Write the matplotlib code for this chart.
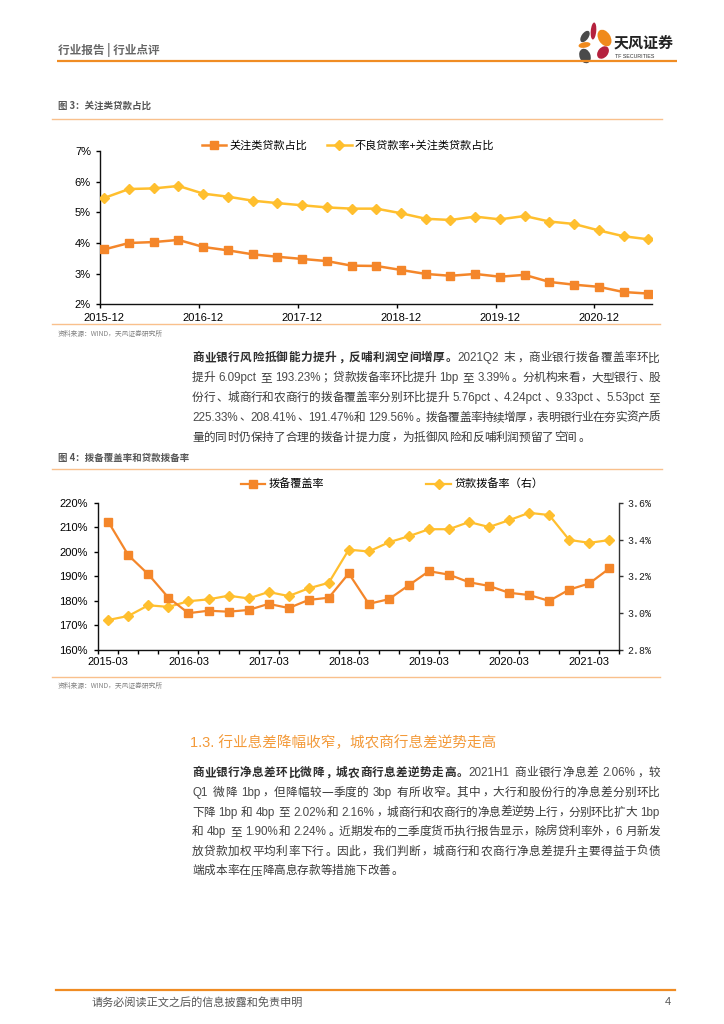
import matplotlib
matplotlib.use("Agg")
import matplotlib.pyplot as plt
from matplotlib.patches import Ellipse

# ---------------- data ----------------
dates1 = ["2015-12", "2016-03", "2016-06", "2016-09", "2016-12", "2017-03", "2017-06",
          "2017-09", "2017-12", "2018-03", "2018-06", "2018-09", "2018-12", "2019-03",
          "2019-06", "2019-09", "2019-12", "2020-03", "2020-06", "2020-09", "2020-12",
          "2021-03", "2021-06"]
special_mention = [3.79, 4.00, 4.03, 4.10, 3.87, 3.76, 3.63, 3.55, 3.48, 3.41, 3.26, 3.25,
                   3.12, 2.99, 2.93, 2.99, 2.90, 2.96, 2.73, 2.64, 2.57, 2.40, 2.35]
npl_plus_sm = [5.47, 5.76, 5.78, 5.86, 5.61, 5.51, 5.38, 5.30, 5.23, 5.16, 5.12, 5.12,
               4.97, 4.79, 4.75, 4.86, 4.77, 4.88, 4.70, 4.62, 4.41, 4.22, 4.12]
series1_names = ["关注类贷款占比", "不良贷款率+关注类贷款占比"]

dates2 = ["2015-03", "2015-06", "2015-09", "2015-12", "2016-03", "2016-06", "2016-09",
          "2016-12", "2017-03", "2017-06", "2017-09", "2017-12", "2018-03", "2018-06",
          "2018-09", "2018-12", "2019-03", "2019-06", "2019-09", "2019-12", "2020-03",
          "2020-06", "2020-09", "2020-12", "2021-03", "2021-06"]
provision_coverage = [212.2, 198.6, 190.8, 181.3, 175.0, 176.0, 175.6, 176.3, 178.8, 177.1,
                      180.4, 181.3, 191.2, 178.8, 180.7, 186.4, 192.1, 190.7, 187.6, 186.1,
                      183.3, 182.4, 180.0, 184.6, 187.1, 193.2]
loan_provision_ratio = [2.963, 2.985, 3.043, 3.034, 3.065, 3.075, 3.095, 3.080, 3.115, 3.093,
                        3.135, 3.165, 3.345, 3.335, 3.385, 3.418, 3.456, 3.456, 3.495, 3.468,
                        3.505, 3.545, 3.533, 3.398, 3.382, 3.397]
series2_names = ["拨备覆盖率", "贷款拨备率（右）"]

y1_ticks = [2, 3, 4, 5, 6, 7]
y2_left_ticks = [160, 170, 180, 190, 200, 210, 220]
y2_right_ticks = [2.8, 3.0, 3.2, 3.4, 3.6]

para1 = [[("商业银行风险抵御能力提升，反哺利润空间增厚。", True), ("2021Q2 末，商业银行拨备覆盖率环比", False)],
         [("提升 6.09pct 至 193.23%；贷款拨备率环比提升 1bp 至 3.39%。分机构来看，大型银行、股", False)],
         [("份行、城商行和农商行的拨备覆盖率分别环比提升 5.76pct、4.24pct、9.33pct、5.53pct 至", False)],
         [("225.33%、208.41%、191.47%和 129.56%。拨备覆盖率持续增厚，表明银行业在夯实资产质", False)],
         [("量的同时仍保持了合理的拨备计提力度，为抵御风险和反哺利润预留了空间。", False)]]
para2 = [[("商业银行净息差环比微降，城农商行息差逆势走高。", True), ("2021H1 商业银行净息差 2.06%，较", False)],
         [("Q1 微降 1bp，但降幅较一季度的 3bp 有所收窄。其中，大行和股份行的净息差分别环比", False)],
         [("下降 1bp 和 4bp 至 2.02%和 2.16%，城商行和农商行的净息差逆势上行，分别环比扩大 1bp", False)],
         [("和 4bp 至 1.90%和 2.24%。近期发布的二季度货币执行报告显示，除房贷利率外，6 月新发", False)],
         [("放贷款加权平均利率下行。因此，我们判断，城商行和农商行净息差提升主要得益于负债", False)],
         [("端成本率在压降高息存款等措施下改善。", False)]]

# ---------------- styles ----------------
CJK = "Noto Sans CJK SC"
MIX = ["Liberation Sans", "Noto Sans CJK SC"]
ORANGE = "#F4862A"
YELLOW = "#FFBF2E"
HEAD_OR = "#F08C23"
SEP = "#F9C08C"
GRAY = "#666666"
PUNCT = "，。、；："

plt.rcParams["font.family"] = MIX
W, H = 724, 1024
fig = plt.figure(figsize=(W / 100, H / 100), dpi=100)
bg = fig.add_axes([0, 0, 1, 1])
bg.set_xlim(0, W)
bg.set_ylim(H, 0)
bg.axis("off")
bg.set_zorder(-5)
renderer = fig.canvas.get_renderer()


def fx(x):
    return x / W


def fy(y):
    return 1 - y / H


def em(size):
    return size * 100 / 72


def draw_line(x0, yc, segs, justify, width=468, size=8.4):
    toks = []
    for text, bold in segs:
        buf = ""
        for ch in text:
            if ord(ch) >= 0x2E80:
                if buf:
                    toks.append((buf, "lat", bold))
                    buf = ""
                toks.append((ch, "cjk", bold))
            elif ch == " ":
                if buf:
                    toks.append((buf, "lat", bold))
                    buf = ""
                toks.append((ch, "sp", bold))
            else:
                buf += ch
        if buf:
            toks.append((buf, "lat", bold))
    base = yc + 0.37 * em(size)
    items = []
    for t, kind, bold in toks:
        if kind == "sp":
            items.append((None, 0.28 * em(size), kind, t))
            continue
        if kind == "cjk":
            a = bg.text(0, base, t, family=CJK, fontsize=size,
                        fontweight="bold" if bold else "normal",
                        color="#2e2e2e" if bold else "#3a3a3a", va="baseline",
                        ha="left" if t in PUNCT else "center")
            w = em(size)
        else:
            a = bg.text(0, base, t, family="Liberation Sans", fontsize=size,
                        color="#4a4a4a", va="baseline", ha="left")
            w = a.get_window_extent(renderer).width + 0.12 * em(size)
        items.append((a, w, kind, t))
    n = len(items)
    gap = (width - sum(it[1] for it in items)) / (n - 1) if (justify and n > 1) else 0
    x = x0
    for a, w, kind, t in items:
        if a is not None:
            if kind == "cjk" and t not in PUNCT:
                a.set_x(x + w / 2)
            elif kind == "cjk":
                a.set_x(x + 0.1 * em(size))
            else:
                a.set_x(x + 0.04 * em(size))
        x += w + gap


# ---------------- header ----------------
bg.text(58, 50, "行业报告 | 行业点评", family=CJK, fontsize=8.4, fontweight="bold",
        color=GRAY, va="center", ha="left")
bg.plot([57, 677], [61, 61], color=HEAD_OR, lw=1.6, solid_capstyle="butt")
petals = [((593.5, 31), 5.5, 17, 5, "#B5213E"),
          ((585, 36.5), 7, 13, 35, "#4a4a4a"),
          ((604.5, 38), 12, 18, -32, "#F08A1C"),
          ((584.5, 45), 12, 5.5, -10, "#F08A1C"),
          ((603, 52.5), 10, 14, 40, "#B5213E"),
          ((585, 56), 11, 15, -22, "#4a4a4a")]
for (cx, cy), w, h, ang, col in petals:
    bg.add_patch(Ellipse((cx, cy), w, h, angle=ang, color=col, lw=0))
bg.text(614, 43, "天风证券", family=CJK, fontsize=10.8, fontweight="bold",
        color="#222222", va="center", ha="left")
bg.text(615, 56, "TF SECURITIES", family="Liberation Sans", fontsize=3.8,
        color="#333333", va="center", ha="left")

# ---------------- chart 1 ----------------
bg.text(58, 106, "图 3：关注类贷款占比", family=CJK, fontsize=6.8, fontweight="bold",
        color="#555555", va="center", ha="left")
bg.plot([52, 662], [119, 119], color=SEP, lw=1.0)

ax1 = fig.add_axes([fx(100), fy(304.3), fx(651.7) - fx(100), fy(151) - fy(304.3)])
x1 = list(range(len(dates1)))
l1, = ax1.plot(x1, special_mention, color=ORANGE, lw=1.8, marker="s", markersize=5.3,
               markerfacecolor=ORANGE, markeredgecolor=ORANGE, zorder=3)
l2, = ax1.plot(x1, npl_plus_sm, color=YELLOW, lw=1.8, marker="D", markersize=5.0,
               markerfacecolor=YELLOW, markeredgecolor=YELLOW, zorder=3)
ax1.set_xlim(-0.174, 22.14)
ax1.set_ylim(2, 7)
for s in ["top", "right"]:
    ax1.spines[s].set_visible(False)
for s in ["left", "bottom"]:
    ax1.spines[s].set_linewidth(1.0)
    ax1.spines[s].set_color("#111111")
ax1.set_yticks(y1_ticks)
ax1.set_yticklabels([f"{v}%" for v in y1_ticks], family="Liberation Sans", fontsize=8)
ax1.set_xticks([i - 0.174 for i in range(0, 23, 4)])
ax1.set_xticklabels([])
ax1.set_xticks(list(range(0, 23, 4)), minor=True)
ax1.set_xticklabels([dates1[i] for i in range(0, 23, 4)], minor=True,
                    family="Liberation Sans", fontsize=8)
ax1.tick_params(axis="x", which="major", length=3, width=1.0, direction="out")
ax1.tick_params(axis="x", which="minor", length=0, pad=6)
ax1.tick_params(axis="y", length=3, width=1.0, direction="out", pad=3.5)
ax1.patch.set_alpha(0)
ax1.legend([l1, l2], series1_names, loc="center", bbox_to_anchor=(fx(348), fy(146)),
           bbox_transform=fig.transFigure, ncol=2, frameon=False,
           handlelength=2.2, handletextpad=0.3, columnspacing=1.8,
           prop={"family": CJK, "size": 8})

bg.plot([52, 660], [323.5, 323.5], color=SEP, lw=1.0)
bg.text(58, 334, "资料来源：WIND，天风证券研究所", family=CJK, fontsize=4.9, color="#808080",
        va="center", ha="left")

# ---------------- paragraph 1 ----------------
for i, segs in enumerate(para1):
    draw_line(192, 357 + i * 19.8, segs, justify=(i < len(para1) - 1))

# ---------------- chart 2 ----------------
bg.text(58, 458, "图 4：拨备覆盖率和贷款拨备率", family=CJK, fontsize=6.8, fontweight="bold",
        color="#555555", va="center", ha="left")
bg.plot([52, 662], [469, 469], color=SEP, lw=1.0)

ax2 = fig.add_axes([fx(98.3), fy(650), fx(619.3) - fx(98.3), fy(502.7) - fy(650)])
ax2r = ax2.twinx()
x2 = list(range(len(dates2)))
m1, = ax2.plot(x2, provision_coverage, color=ORANGE, lw=1.6, marker="s", markersize=5.3,
               markerfacecolor=ORANGE, markeredgecolor=ORANGE, zorder=4)
m2, = ax2r.plot(x2, loan_provision_ratio, color=YELLOW, lw=1.6, marker="D", markersize=5.0,
                markerfacecolor=YELLOW, markeredgecolor=YELLOW, zorder=3)
ax2.set_zorder(ax2r.get_zorder() + 1)
ax2.patch.set_alpha(0)
ax2r.patch.set_alpha(0)
ax2.set_xlim(-0.5, 25.5)
ax2.set_ylim(160, 220)
ax2r.set_ylim(2.8, 3.6)
ax2.spines["top"].set_visible(False)
ax2r.spines["top"].set_visible(False)
ax2.spines["right"].set_visible(False)
ax2r.spines["left"].set_visible(False)
ax2r.spines["bottom"].set_visible(False)
for s in [ax2.spines["left"], ax2.spines["bottom"]]:
    s.set_linewidth(1.0)
    s.set_color("#111111")
ax2r.spines["right"].set_linewidth(1.0)
ax2r.spines["right"].set_color("#333333")
ax2.set_yticks(y2_left_ticks)
ax2.set_yticklabels([f"{v}%" for v in y2_left_ticks], family="Liberation Sans", fontsize=8)
ax2r.set_yticks(y2_right_ticks)
ax2r.set_yticklabels([f"{v:.1f}%" for v in y2_right_ticks], family="Liberation Mono",
                     fontsize=7.2, color="#222222")
ax2.set_xticks([i - 0.5 for i in range(0, 27)])
ax2.set_xticklabels([])
ax2.set_xticks(list(range(0, 26, 4)), minor=True)
ax2.set_xticklabels([dates2[i] for i in range(0, 26, 4)], minor=True,
                    family="Liberation Sans", fontsize=8)
ax2.tick_params(axis="x", which="major", length=3, width=1.0, direction="out")
ax2.tick_params(axis="x", which="minor", length=0, pad=5)
ax2.tick_params(axis="y", length=3, width=1.0, direction="out", pad=4.5)
ax2r.tick_params(axis="y", length=3, width=1.0, direction="out", pad=2.5, color="#333333")
ax2.legend([m1, m2], series2_names, loc="center", bbox_to_anchor=(fx(392), fy(484)),
           bbox_transform=fig.transFigure, ncol=2, frameon=False,
           handlelength=2.2, handletextpad=0.3, columnspacing=9.2,
           prop={"family": CJK, "size": 8})

bg.plot([52, 660], [676.5, 676.5], color=SEP, lw=1.0)
bg.text(58, 686, "资料来源：WIND，天风证券研究所", family=CJK, fontsize=4.9, color="#808080",
        va="center", ha="left")

# ---------------- section 1.3 ----------------
bg.text(190, 743, "1.3. 行业息差降幅收窄，城农商行息差逆势走高", family=MIX, fontsize=10.5,
        color="#F39A3A", va="center", ha="left", fontweight="medium")
for i, segs in enumerate(para2):
    draw_line(192, 772 + i * 19.6, segs, justify=(i < len(para2) - 1))

# ---------------- footer ----------------
bg.plot([56, 675], [989.5, 989.5], color=HEAD_OR, lw=1.6)
bg.text(92, 1002, "请务必阅读正文之后的信息披露和免责申明", family=CJK, fontsize=8,
        color="#555555", va="center", ha="left")
bg.text(668, 1002, "4", family="Liberation Sans", fontsize=8, color="#555555",
        va="center", ha="center")

fig.savefig("out.png", dpi=100)
